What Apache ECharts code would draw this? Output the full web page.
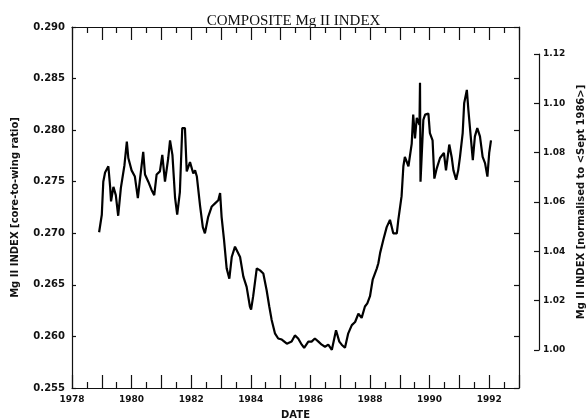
<!DOCTYPE html>
<html>
<head>
<meta charset="utf-8">
<script src="https://cdn.jsdelivr.net/npm/echarts@6/dist/echarts.min.js"></script>
<style>
  html, body { margin: 0; padding: 0; background: #fff; }
  #chart { width: 587px; height: 420px; }
</style>
</head>
<body>
<div id="chart"></div>
<script>
  // decimal year of each traced point
  const years = [
    1978.91, 1979.00, 1979.05, 1979.11, 1979.22, 1979.28, 1979.31, 1979.39, 1979.47, 1979.55,
    1979.64, 1979.76, 1979.84, 1979.89, 1980.00, 1980.11, 1980.21, 1980.28, 1980.39, 1980.45,
    1980.56, 1980.67, 1980.76, 1980.84, 1980.95, 1981.03, 1981.12, 1981.23, 1981.29, 1981.37,
    1981.46, 1981.53, 1981.62, 1981.70, 1981.79, 1981.85, 1981.96, 1982.07, 1982.13, 1982.19,
    1982.30, 1982.39, 1982.46, 1982.57, 1982.69, 1982.80, 1982.91, 1982.97, 1983.02, 1983.10,
    1983.19, 1983.28, 1983.36, 1983.47, 1983.64, 1983.75, 1983.86, 1983.97, 1984.01, 1984.08,
    1984.20, 1984.31, 1984.42, 1984.53, 1984.62, 1984.70, 1984.81, 1984.92, 1985.04, 1985.21,
    1985.26, 1985.37, 1985.48, 1985.59, 1985.71, 1985.79, 1985.93, 1986.04, 1986.15, 1986.27,
    1986.38, 1986.49, 1986.60, 1986.72, 1986.86, 1986.97, 1987.05, 1987.16, 1987.27, 1987.39,
    1987.50, 1987.61, 1987.72, 1987.83, 1987.91, 1988.00, 1988.09, 1988.23, 1988.28, 1988.34,
    1988.45, 1988.56, 1988.67, 1988.73, 1988.78, 1988.90, 1988.95, 1989.06, 1989.12, 1989.17,
    1989.29, 1989.40, 1989.45, 1989.51, 1989.57, 1989.66, 1989.678, 1989.695, 1989.79, 1989.85,
    1989.96, 1990.01, 1990.10, 1990.16, 1990.24, 1990.35, 1990.48, 1990.55, 1990.66, 1990.74,
    1990.80, 1990.89, 1990.96, 1991.02, 1991.11, 1991.16, 1991.25, 1991.30, 1991.38, 1991.45,
    1991.52, 1991.60, 1991.69, 1991.78, 1991.86, 1991.94, 1992.00, 1992.06
  ];

  // core-to-wing ratio
  const mgIndex = [
    0.2701, 0.2718, 0.2750, 0.2759, 0.2765, 0.2745, 0.2731, 0.2745, 0.2737, 0.2717,
    0.2744, 0.2766, 0.2789, 0.2773, 0.2761, 0.2755, 0.2734, 0.2752, 0.2779, 0.2757,
    0.2750, 0.2742, 0.2737, 0.2757, 0.2760, 0.2776, 0.2750, 0.2773, 0.2790, 0.2776,
    0.2734, 0.2718, 0.2740, 0.2802, 0.2802, 0.2760, 0.2769, 0.2758, 0.2761, 0.2755,
    0.2726, 0.2706, 0.2700, 0.2716, 0.2726, 0.2729, 0.2732, 0.2739, 0.2716, 0.2694,
    0.2666, 0.2656, 0.2677, 0.2687, 0.2677, 0.2658, 0.2648, 0.2629, 0.2626, 0.2639,
    0.2666, 0.2664, 0.2661, 0.2645, 0.2629, 0.2616, 0.2603, 0.2598, 0.2597, 0.2593,
    0.2592, 0.2595, 0.2601, 0.2598, 0.2592, 0.2589, 0.2595, 0.2595, 0.2598, 0.2595,
    0.2592, 0.2590, 0.2592, 0.2587, 0.2606, 0.2595, 0.2592, 0.2589, 0.2603, 0.2611,
    0.2614, 0.2622, 0.2618, 0.2629, 0.2632, 0.2639, 0.2655, 0.2666, 0.2671, 0.2681,
    0.2694, 0.2706, 0.2713, 0.2706, 0.2700, 0.2700, 0.2713, 0.2736, 0.2765, 0.2774,
    0.2765, 0.2787, 0.2815, 0.2792, 0.2812, 0.2805, 0.2846, 0.2750, 0.2810, 0.2815,
    0.2816, 0.2797, 0.2790, 0.2753, 0.2763, 0.2773, 0.2778, 0.2761, 0.2786, 0.2774,
    0.2761, 0.2752, 0.2761, 0.2774, 0.2797, 0.2826, 0.2839, 0.2820, 0.2794, 0.2771,
    0.2794, 0.2802, 0.2794, 0.2774, 0.2768, 0.2755, 0.2778, 0.2790
  ];

  const yearLabels = [1978, 1980, 1982, 1984, 1986, 1988, 1990, 1992];
  const normTicks = [1.00, 1.02, 1.04, 1.06, 1.08, 1.10, 1.12];

  const chart = echarts.init(document.getElementById('chart'));

  const ink = '#111';
  const tickFont = { fontFamily: 'DejaVu Sans', fontWeight: 'bold', color: ink };
  const nameFont = { fontFamily: 'DejaVu Sans', fontWeight: 'bold', fontSize: 10, color: ink };

  // year ticks, shared by the bottom and top axes
  const yearTick = { show: true, inside: true, length: 13, lineStyle: { color: ink, width: 1.2 } };
  const halfYearTick = { show: true, splitNumber: 2, length: 6, lineStyle: { color: ink, width: 1.2 } };

  const option = {
    animation: false,
    backgroundColor: '#fff',
    title: {
      text: 'COMPOSITE Mg II INDEX',
      left: 'center',
      top: 9,
      textStyle: { fontFamily: 'Liberation Serif', fontWeight: 'normal', fontSize: 15, color: ink }
    },
    grid: [
      { left: 72, right: 68, top: 27, bottom: 32, containLabel: false, outerBoundsMode: 'none' },
      // only carries the normalised scale on the far right
      { left: 72, right: 48, top: 54, bottom: 70, containLabel: false, outerBoundsMode: 'none' }
    ],
    xAxis: [
      {
        type: 'value', gridIndex: 0, min: 1978, max: 1993, interval: 1,
        name: 'DATE', nameLocation: 'middle', nameGap: 22, nameTextStyle: nameFont,
        axisLine: { show: true, onZero: false, lineStyle: { color: ink, width: 1.2 } },
        axisTick: yearTick,
        minorTick: halfYearTick,
        splitLine: { show: false },
        minorSplitLine: { show: false },
        axisLabel: {
          ...tickFont, fontSize: 9, margin: 7,
          formatter: (v) => (yearLabels.includes(v) ? String(v) : '')
        }
      },
      {
        type: 'value', gridIndex: 0, position: 'top', min: 1978, max: 1993, interval: 1,
        axisLine: { show: true, onZero: false, lineStyle: { color: ink, width: 1.2 } },
        axisTick: yearTick,
        minorTick: halfYearTick,
        splitLine: { show: false },
        minorSplitLine: { show: false },
        axisLabel: { show: false }
      },
      { type: 'value', gridIndex: 1, min: 0, max: 1, show: false, axisLine: { onZero: false } }
    ],
    yAxis: [
      {
        type: 'value', gridIndex: 0, min: 0.255, max: 0.29, interval: 0.005,
        name: 'Mg II INDEX [core-to-wing ratio]', nameLocation: 'middle', nameGap: 52,
        nameTextStyle: nameFont,
        axisLine: { show: true, onZero: false, lineStyle: { color: ink, width: 1.2 } },
        axisTick: { show: true, inside: true, length: 4, lineStyle: { color: ink, width: 1.2 } },
        splitLine: { show: false },
        axisLabel: { ...tickFont, fontSize: 10, margin: 7, formatter: (v) => v.toFixed(3) }
      },
      {
        type: 'value', gridIndex: 0, position: 'right', min: 0.255, max: 0.29, interval: 0.005,
        axisLine: { show: true, onZero: false, lineStyle: { color: ink, width: 1.2 } },
        axisTick: { show: true, inside: true, length: 5, lineStyle: { color: ink, width: 1.2 } },
        splitLine: { show: false },
        axisLabel: { show: false }
      },
      {
        type: 'value', gridIndex: 1, position: 'right', min: 1.0, max: 1.12, interval: 0.02,
        name: 'Mg II INDEX [normalised to <Sept 1986>]', nameLocation: 'middle', nameGap: 36,
        nameRotate: 90, nameTextStyle: nameFont,
        axisLine: { show: true, onZero: false, lineStyle: { color: ink, width: 1.2 } },
        axisTick: { show: true, inside: true, length: 5, lineStyle: { color: ink, width: 1.2 } },
        splitLine: { show: false },
        axisLabel: {
          ...tickFont, fontSize: 9, margin: 4,
          formatter: (v) => (normTicks.some((t) => Math.abs(t - v) < 1e-6) ? v.toFixed(2) : '')
        }
      }
    ],
    series: [
      {
        type: 'line',
        xAxisIndex: 0,
        yAxisIndex: 0,
        data: years.map((y, i) => [y, mgIndex[i]]),
        showSymbol: false,
        lineStyle: { color: '#000', width: 2.2 },
        silent: true
      }
    ]
  };

  chart.setOption(option);
</script>
</body>
</html>
